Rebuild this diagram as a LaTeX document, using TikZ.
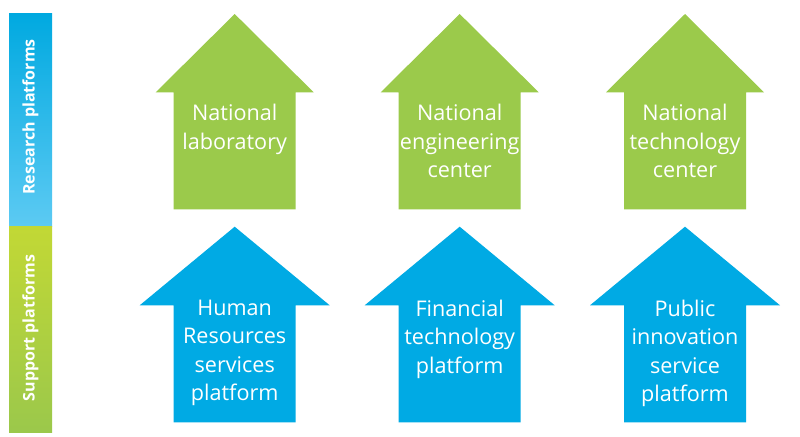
\documentclass[tikz,border=0pt]{standalone}
\usepackage{fontspec}
\setmainfont{Open Sans}
\definecolor{arrgreen}{HTML}{9BCA4B}
\definecolor{arrblue}{HTML}{00AAE4}
\definecolor{barblueT}{HTML}{00A9E0}
\definecolor{barblueB}{HTML}{5CCAF3}
\definecolor{bargreenT}{HTML}{C2D835}
\definecolor{bargreenB}{HTML}{9BC84B}
\begin{document}
\begin{tikzpicture}[x=0.75pt,y=-0.75pt,
  arrtext/.style={text=white,align=center,anchor=north,inner sep=0pt,
    font=\fontsize{16.2}{21.4}\selectfont},
  bartext/.style={text=white,rotate=90,inner sep=0pt,
    font=\fontsize{12}{13}\selectfont\bfseries},
  greenarrow/.style={fill=arrgreen,draw=none},
  bluearrow/.style={fill=arrblue,draw=none}]
\useasboundingbox (0,0) rectangle (800,436);
\fill[white] (0,0) rectangle (800,436);
% left bar
\shade[top color=barblueT,bottom color=barblueB] (9,13) rectangle (52,226);
\shade[top color=bargreenT,bottom color=bargreenB] (9,226) rectangle (52,432);
\node[bartext] (research) at (30.5,117) {Research platforms};
\node[bartext] (support) at (30.5,328) {Support platforms};
% green arrows (research)
\foreach \cx/\nm in {234.7/g1,459.7/g2,685/g3}{
  \fill[greenarrow] (\cx,14) -- (\cx+79,92.3) -- (\cx+61,92.3) -- (\cx+61,209.3)
    -- (\cx-61,209.3) -- (\cx-61,92.3) -- (\cx-79,92.3) -- cycle;
  \coordinate (\nm) at (\cx,104);
}
% blue arrows (support)
\foreach \cx/\nm in {234.7/b1,459.7/b2,685/b3}{
  \fill[bluearrow] (\cx,226.7) -- (\cx+95,305.3) -- (\cx+61,305.3) -- (\cx+61,422.3)
    -- (\cx-61,422.3) -- (\cx-61,305.3) -- (\cx-95,305.3) -- cycle;
  \coordinate (\nm) at (\cx,299.5);
}
\node[arrtext] (t1) at (g1) {National\\laboratory};
\node[arrtext] (t2) at (g2) {National\\engineering\\center};
\node[arrtext] (t3) at (g3) {National\\technology\\center};
\node[arrtext] (t4) at (b1) {Human\\Resources\\services\\platform};
\node[arrtext] (t5) at (b2) {Financial\\technology\\platform};
\node[arrtext] (t6) at (b3) {Public\\innovation\\service\\platform};
\end{tikzpicture}
\end{document}
